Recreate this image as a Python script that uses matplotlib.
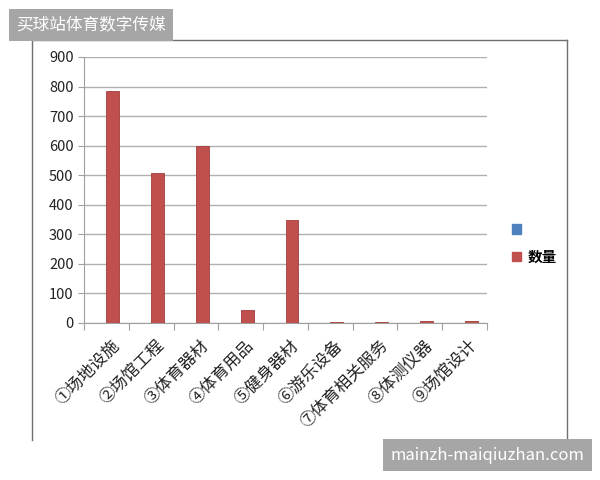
import numpy as np
import matplotlib.pyplot as plt
from matplotlib.lines import Line2D

plt.rcParams['font.family'] = ['Noto Sans CJK SC', 'DejaVu Sans']

# Datos
categorias = ['①场地设施', '②场馆工程', '③体育器材', '④体育用品', '⑤健身器材',
              '⑥游乐设备', '⑦体育相关服务', '⑧体测仪器', '⑨场馆设计']
cantidad = [784, 508, 600, 45, 350, 2, 4, 7, 7]
yticks = [0, 100, 200, 300, 400, 500, 600, 700, 800, 900]

fig = plt.figure(figsize=(6, 4.8), dpi=100)
ax = fig.add_axes([84 / 600, 1 - 323 / 480, 403 / 600, 266 / 480])

x = np.arange(len(categorias))
w = 0.29
ax.bar(x + w / 2, cantidad, width=w, color='#c0504d', edgecolor='#a33d3a',
       linewidth=0.6, label='数量', zorder=3)

ax.set_xlim(-0.5, len(categorias) - 0.5)
ax.set_ylim(0, 900)
ax.set_yticks(yticks)
ax.yaxis.grid(True, color='#b0b0b0', linewidth=1)
ax.set_axisbelow(True)
for s in ['top', 'right']:
    ax.spines[s].set_visible(False)
ax.spines['left'].set_color('#a0a0a0')
ax.spines['bottom'].set_color('#a0a0a0')
ax.tick_params(axis='y', length=4, labelsize=10.5, colors='#a0a0a0',
               labelcolor='#222222')

# ticks del eje x en los limites de categoria
ax.set_xticks(np.arange(-0.5, len(categorias)), minor=False)
ax.set_xticklabels([])
ax.tick_params(axis='x', length=5, color='#a0a0a0')
ax.set_xticks(x + 0.1, minor=True)
ax.set_xticklabels(categorias, minor=True, rotation=45, ha='right',
                   rotation_mode='anchor', fontsize=12, color='#222222')
ax.tick_params(axis='x', which='minor', length=0, pad=10)

# leyenda
h_azul = plt.Rectangle((0, 0), 1, 1, color='#4f81bd')
h_rojo = plt.Rectangle((0, 0), 1, 1, color='#c0504d')
fig.legend([h_azul, h_rojo], ['', '数量'], loc='upper left',
           bbox_to_anchor=(499 / 600, 1 - 208 / 480), frameon=False,
           handlelength=0.6, handleheight=0.6, handletextpad=0.5,
           labelspacing=0.8, prop={'size': 10.5, 'weight': 'bold'})

# marco del grafico
col = '#707070'
fig.add_artist(Line2D([32 / 600, 567 / 600], [1 - 40 / 480, 1 - 40 / 480],
                      color=col, lw=1, transform=fig.transFigure))
fig.add_artist(Line2D([32 / 600, 32 / 600], [1 - 40 / 480, 1 - 440 / 480],
                      color=col, lw=1, transform=fig.transFigure))
fig.add_artist(Line2D([567 / 600, 567 / 600], [1 - 40 / 480, 1 - 440 / 480],
                      color=col, lw=1, transform=fig.transFigure))

# marcas de agua
fig.text(16 / 600, 1 - 25 / 480, '买球站体育数字传媒', color='white', fontsize=12,
         va='center', ha='left',
         bbox=dict(boxstyle='square,pad=0.45', fc='#a6a6a6', ec='none'))
fig.text(584 / 600, 1 - 455 / 480, 'mainzh-maiqiuzhan.com', color='white',
         fontsize=12, va='center', ha='right',
         bbox=dict(boxstyle='square,pad=0.45', fc='#a6a6a6', ec='none'))

plt.savefig('out.png', dpi=100)
